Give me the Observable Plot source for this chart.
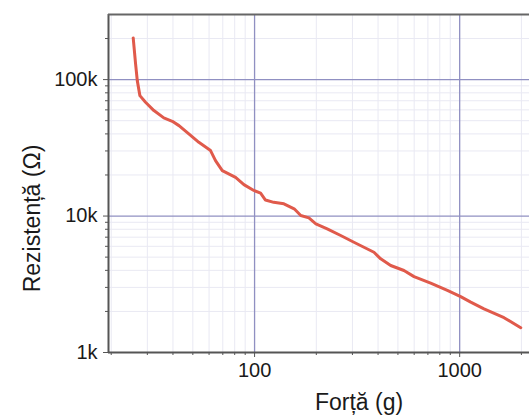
<!DOCTYPE html>
<html><head><meta charset="utf-8">
<script src="https://cdn.jsdelivr.net/npm/d3@7"></script>
<script src="https://cdn.jsdelivr.net/npm/@observablehq/plot@0.6"></script>
<style>body{margin:0;background:#fff}</style>
</head><body><div id="c"></div>
<script>
const force = [25.6, 26.3, 26.8, 27.6, 29.4, 32.3, 36.1, 39.7, 42.8, 47.8, 53.5, 61.0, 64.5, 69.6, 80.8, 88.7, 99.2, 107, 113, 124, 139, 156, 168, 184, 199, 226, 263, 305, 382, 412, 461, 535, 599, 722, 871, 1011, 1132, 1314, 1645, 1985];
const resistance = [202000, 130000, 98300, 76300, 68200, 59300, 52400, 49500, 46000, 40000, 34700, 30200, 25500, 21500, 19200, 17000, 15400, 14700, 13100, 12600, 12300, 11300, 10100, 9700, 8770, 8060, 7200, 6430, 5430, 4860, 4340, 3990, 3600, 3220, 2850, 2570, 2340, 2090, 1800, 1520];
const xDomain = [19.4, 2190];
const yDomain = [1000, 300000];
const xMajor = [100, 1000];
const xMinor = [20, 30, 40, 50, 60, 70, 80, 90, 200, 300, 400, 500, 600, 700, 800, 900, 2000];
const yMajor = [1000, 10000, 100000];
const yMinor = [2000, 3000, 4000, 5000, 6000, 7000, 8000, 9000, 20000, 30000, 40000, 50000, 60000, 70000, 80000, 90000, 200000];
const xLabel = "Forță (g)";
const yLabel = "Rezistență (Ω)";

const data = force.map((f, i) => ({force: f, resistance: resistance[i]}));

const chart = Plot.plot({
  width: 529, height: 415,
  marginLeft: 108, marginRight: 0, marginTop: 14, marginBottom: 63,
  x: {type: "log", domain: xDomain, axis: null},
  y: {type: "log", domain: yDomain, axis: null},
  style: {fontFamily: "'Liberation Sans', Arial, sans-serif", background: "transparent", color: "#1a1a1a"},
  marks: [
    Plot.ruleX(xMinor, {stroke: "#e9e9f3", strokeWidth: 1}),
    Plot.ruleY(yMinor, {stroke: "#e9e9f3", strokeWidth: 1}),
    Plot.ruleX(xMajor, {stroke: "#9090c2", strokeWidth: 1.3}),
    Plot.ruleY(yMajor.slice(1), {stroke: "#9090c2", strokeWidth: 1.3}),
    Plot.line(data, {x: "force", y: "resistance", stroke: "#e05a4b", strokeWidth: 3, strokeLinejoin: "round", strokeLinecap: "round"}),
    Plot.ruleX([xDomain[0]], {stroke: "#555", strokeWidth: 2}),
    Plot.ruleY([yDomain[0]], {stroke: "#555", strokeWidth: 2}),
    Plot.ruleY([yDomain[1]], {stroke: "#666", strokeWidth: 2}),
    Plot.axisX({ticks: xMinor, tickSize: 3, text: null, label: null, stroke: "#555"}),
    Plot.axisY({ticks: yMinor, tickSize: 3, text: null, label: null, stroke: "#555"}),
    Plot.axisX({ticks: xMajor, tickSize: 5, tickPadding: 5, fontSize: 20, tickFormat: d => String(d), label: null, stroke: "#555"}),
    Plot.axisY({ticks: yMajor, tickSize: 5, tickPadding: 6, fontSize: 20, tickFormat: d => (d / 1000) + "k", label: null, stroke: "#555"}),
    Plot.text([xLabel], {frameAnchor: "bottom", text: d => d, textAnchor: "middle", dx: 40, dy: 57, lineAnchor: "bottom", fontSize: 23, fill: "#1a1a1a"}),
    Plot.text([yLabel], {frameAnchor: "left", text: d => d, textAnchor: "middle", rotate: -90, dx: -76, dy: 35, fontSize: 23, fill: "#1a1a1a"})
  ]
});
document.getElementById("c").appendChild(chart);
</script>
</body></html>
